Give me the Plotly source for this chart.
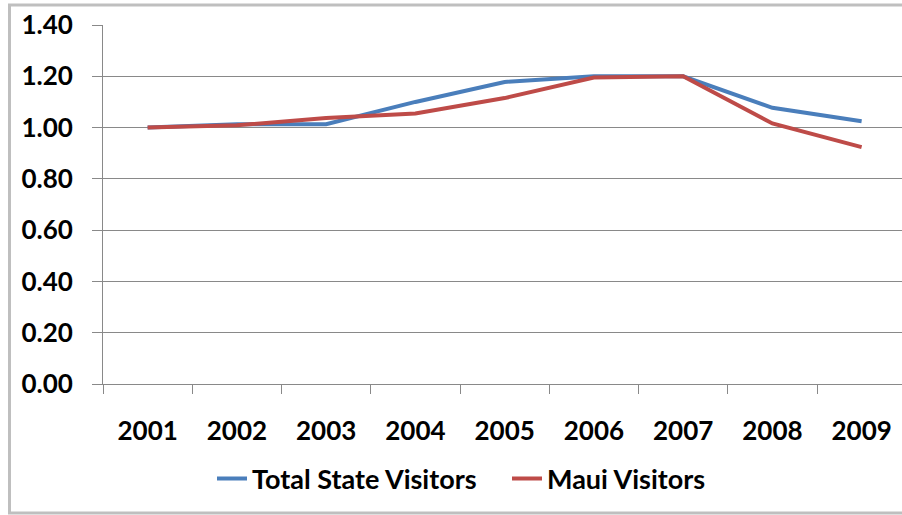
import plotly.graph_objects as go

years = ["2001", "2002", "2003", "2004", "2005", "2006", "2007", "2008", "2009"]
total_state = [1.00, 1.013, 1.013, 1.10, 1.178, 1.20, 1.20, 1.077, 1.025]
maui = [1.00, 1.009, 1.037, 1.055, 1.115, 1.195, 1.20, 1.016, 0.924]
y_ticks = [0.0, 0.2, 0.4, 0.6, 0.8, 1.0, 1.2, 1.4]
y_labels = [f"{v:.2f}" for v in y_ticks]

FONT = "Lato, 'Liberation Sans', sans-serif"
GRID = "#898989"
FS = 26

W, H = 902, 515
L, R, T, B = 103, 0, 25, 131
pw, ph = W - L - R, H - T - B

def px(x):
    return (x - L) / pw

def py(y):
    return (H - B - y) / ph

fig = go.Figure()
fig.add_trace(go.Scatter(x=years, y=total_state, mode="lines", name="Total State Visitors",
                         line=dict(color="#4A7EBB", width=4)))
fig.add_trace(go.Scatter(x=years, y=maui, mode="lines", name="Maui Visitors",
                         line=dict(color="#BE4B48", width=4)))

cat_w = 89.25
fig.update_layout(
    width=W, height=H,
    margin=dict(l=L, r=R, t=T, b=B, pad=0),
    paper_bgcolor="white", plot_bgcolor="white",
    font=dict(family=FONT, size=FS, color="black"),
    showlegend=True,
    legend=dict(orientation="h", x=px(212), xanchor="left", y=py(479), yanchor="middle",
                font=dict(family=FONT, size=FS + 1, color="black", weight="bold"),
                itemwidth=30, entrywidth=250, tracegroupgap=0, bgcolor="rgba(0,0,0,0)"),
    xaxis=dict(type="category", range=[-0.5, -0.5 + pw / cat_w],
               tickson="boundaries", ticks="outside", ticklen=9, tickcolor=GRID, tickwidth=1,
               showline=True, linecolor=GRID, linewidth=1, showgrid=False,
               tickfont=dict(family=FONT, size=FS, color="black", weight="bold"),
               ticklabelstandoff=24, zeroline=False),
    yaxis=dict(range=[0, 1.4], tickvals=y_ticks, ticktext=y_labels,
               ticks="outside", ticklen=10, tickcolor=GRID, tickwidth=1,
               showline=True, linecolor=GRID, linewidth=1,
               showgrid=True, gridcolor=GRID, gridwidth=1, zeroline=False,
               tickfont=dict(family=FONT, size=FS, color="black", weight="bold"),
               ticklabelstandoff=14),
)

# outer chart border (Excel chart area)
border = dict(color="#BFBFBF", width=3)
fig.add_shape(type="line", xref="paper", yref="paper", x0=px(9.5), x1=px(9.5), y0=py(5), y1=py(513), line=border)
fig.add_shape(type="line", xref="paper", yref="paper", x0=px(8), x1=px(910), y0=py(5), y1=py(5), line=border)
fig.add_shape(type="line", xref="paper", yref="paper", x0=px(8), x1=px(910), y0=py(513), y1=py(513), line=border)

fig.write_html("out.html", config={"displayModeBar": False},
               post_script="document.body.style.margin='0';document.body.style.overflow='hidden';")
